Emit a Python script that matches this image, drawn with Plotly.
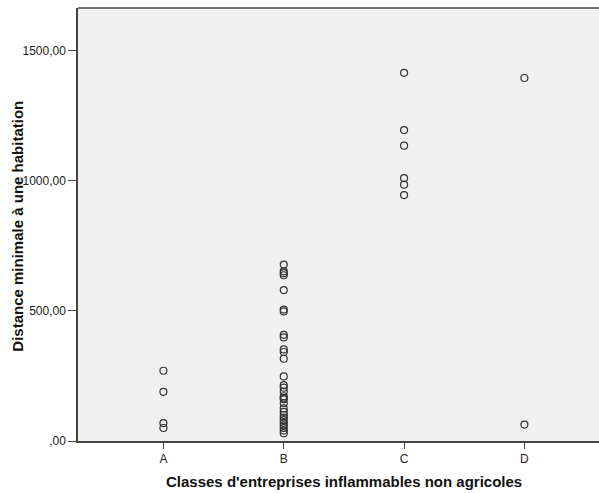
import plotly.graph_objects as go

categories = ["A", "B", "C", "D"]
values_A = [270, 189, 69, 50]
values_B = [678, 652, 645, 637, 580, 505, 498, 408, 398, 352, 342, 316,
            248, 215, 205, 190, 172, 165, 160, 145, 125, 112, 100, 90,
            80, 70, 60, 50, 40, 30]
values_C = [1415, 1195, 1135, 1010, 985, 945]
values_D = [1395, 63]
y_tick_vals = [0, 500, 1000, 1500]
y_tick_text = [",00", "500,00", "1000,00", "1500,00"]
x_title = "Classes d'entreprises inflammables non agricoles"
y_title = "Distance minimale à une habitation"

groups = [values_A, values_B, values_C, values_D]
xs, ys = [], []
for cat, vals in zip(categories, groups):
    xs += [cat] * len(vals)
    ys += vals

fig = go.Figure(go.Scatter(
    x=xs, y=ys, mode="markers",
    marker=dict(symbol="circle-open", size=7, color="#333333",
                line=dict(width=1.2, color="#333333")),
    cliponaxis=False,
))

font = "Liberation Sans, Arial, sans-serif"
fig.update_layout(
    width=599, height=493,
    margin=dict(l=78, r=0, t=8, b=52, autoexpand=False),
    paper_bgcolor="white", plot_bgcolor="#F0F0F0",
    showlegend=False,
    font=dict(family=font, size=12, color="#222222"),
    shapes=[dict(type="line", xref="paper", yref="paper", x0=0, x1=1,
                 y0=1, y1=1, line=dict(color="#444444", width=1.5))],
    annotations=[
        dict(text="<b>" + x_title + "</b>", xref="paper", yref="paper",
             x=0.51, y=0, yshift=-40, showarrow=False, xanchor="center",
             yanchor="middle", font=dict(size=15, color="#111111")),
        dict(text="<b>" + y_title + "</b>", xref="paper", yref="paper",
             x=0, xshift=-60, y=0.495, showarrow=False, textangle=-90,
             xanchor="center", yanchor="middle",
             font=dict(size=15, color="#111111")),
    ],
)
fig.update_xaxes(
    type="category", categoryorder="array", categoryarray=categories,
    range=[-0.71, 3.62], showgrid=False, zeroline=False, automargin=False,
    showline=True, linecolor="#444444", linewidth=1.5, mirror=False,
    ticks="outside", ticklen=6, tickcolor="#444444",
    tickfont=dict(size=12, color="#222222"),
)
fig.update_yaxes(
    range=[0, 1664], showgrid=False, zeroline=False, automargin=False,
    showline=True, linecolor="#444444", linewidth=1.5, mirror=False,
    ticks="outside", ticklen=8, tickcolor="#444444",
    tickvals=y_tick_vals, ticktext=y_tick_text,
    tickfont=dict(size=12, color="#222222"),
)

fig.write_html("out.html",
               config={"displayModeBar": False},
               post_script="document.body.style.margin='0';"
                           "document.body.style.overflow='hidden';")
